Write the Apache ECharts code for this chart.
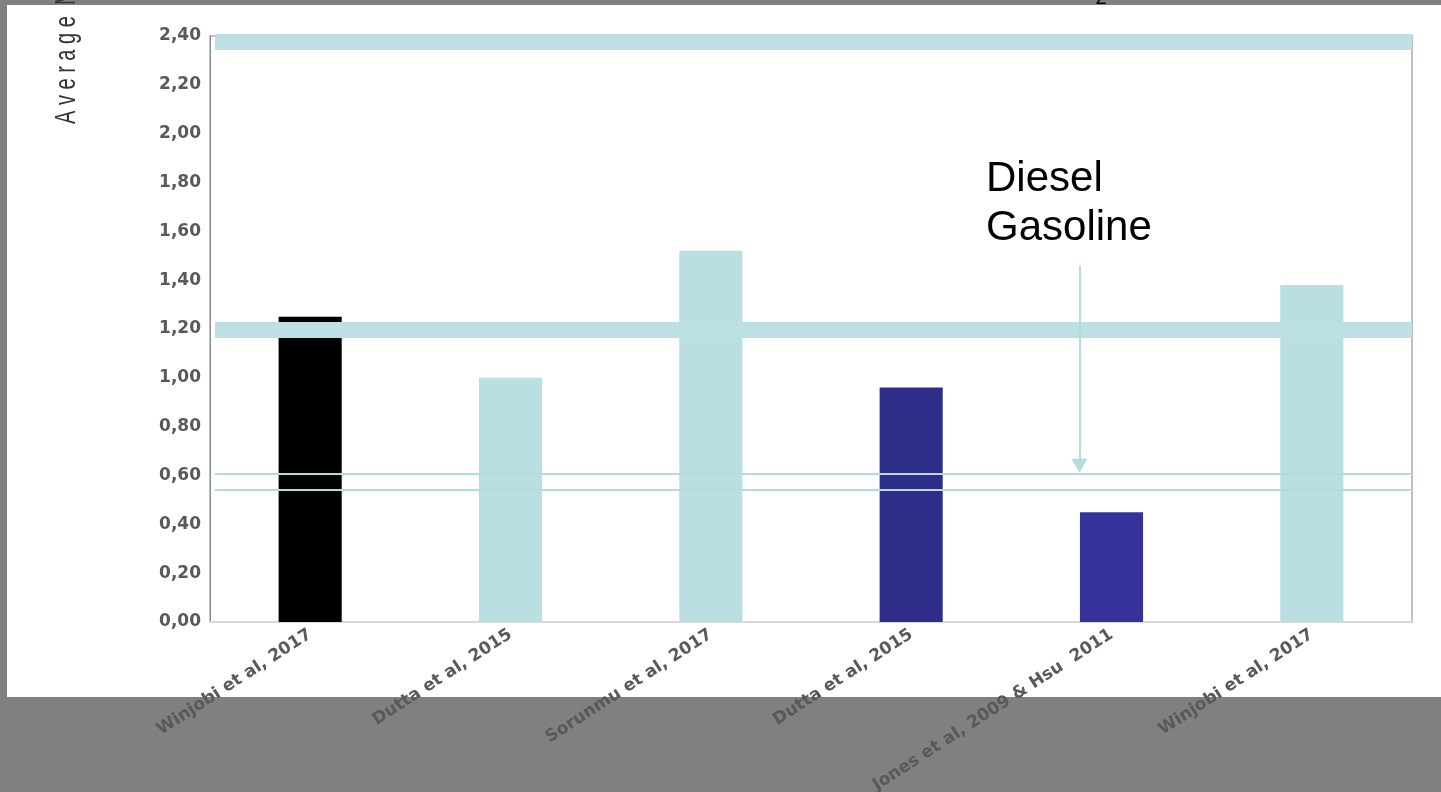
<!DOCTYPE html>
<html>
<head>
<meta charset="utf-8">
<script src="https://cdn.jsdelivr.net/npm/echarts@6/dist/echarts.min.js"></script>
<style>
html, body { margin: 0; padding: 0; background: #808080; }
#panel { position: absolute; left: 7px; top: 5px; width: 1434px; height: 692px; background: #fff; }
#main { position: absolute; left: 0; top: 0; width: 1441px; height: 792px; }
</style>
</head>
<body>
<div id="panel"></div>
<div id="main"></div>
<script>
// data
const categories = ['Winjobi et al, 2017', 'Dutta et al, 2015', 'Sorunmu et al, 2017', 'Dutta et al, 2015', 'Jones et al, 2009 & Hsu  2011', 'Winjobi et al, 2017']
const values = [1.25, 1.00, 1.52, 0.96, 0.45, 1.38]
const barColors = ['#000000', '#b9dfe2', '#b9dfe2', '#2e2d8a', '#35339a', '#b9dfe2']
const yMin = 0
const yMax = 2.4
const yStep = 0.2
// reference lines drawn across the plot
const bandLevels = [2.375, 1.196]
const thinLevels = [0.607, 0.542]
// arrow, in (slot, value) units of the hidden 0..6 axis
const arrowFrom = [4.34, 1.46]
const arrowTo = [4.34, 0.64]
const lineStart = 0.025
const lineEnd = 6

const labelFont = 'DejaVu Sans'
const labelColor = '#595959'

const chart = echarts.init(document.getElementById('main'))

const markData = []
bandLevels.forEach(v => {
  markData.push([
    { coord: [lineStart, v], lineStyle: { width: 16, color: '#bde0e4', type: 'solid', opacity: 1 } },
    { coord: [lineEnd, v] }
  ])
})
thinLevels.forEach(v => {
  markData.push([
    { coord: [lineStart, v], lineStyle: { width: 2, color: '#b4dcdf', type: 'solid', opacity: 1 } },
    { coord: [lineEnd, v] }
  ])
})
markData.push([
  { coord: arrowFrom, symbol: 'none', lineStyle: { width: 2, color: '#b4dcdf', type: 'solid', opacity: 1 } },
  { coord: arrowTo, symbol: 'triangle', symbolSize: [16, 14], itemStyle: { color: '#b4dcdf' } }
])

chart.setOption({
  animation: false,
  grid: {
    left: 210,
    right: 29,
    top: 36,
    bottom: 170,
    outerBoundsMode: 'none',
    containLabel: false,
    show: true,
    borderColor: '#c0c0c0',
    borderWidth: 2
  },
  xAxis: [{
    type: 'category',
    data: categories,
    axisLine: { show: true, lineStyle: { color: '#d9d9d9', width: 2 } },
    axisTick: { show: false },
    splitLine: { show: false },
    axisLabel: {
      interval: 0,
      rotate: 33,
      margin: 11,
      color: labelColor,
      fontFamily: labelFont,
      fontWeight: 'bold',
      fontSize: 17
    }
  }, {
    type: 'value',
    min: 0,
    max: 6,
    show: false
  }],
  yAxis: {
    type: 'value',
    min: yMin,
    max: yMax,
    interval: yStep,
    axisLine: { show: true, lineStyle: { color: '#8c8c8c', width: 1 } },
    axisTick: { show: false },
    splitLine: { show: false },
    axisLabel: {
      margin: 9,
      color: labelColor,
      fontFamily: labelFont,
      fontWeight: 'bold',
      fontSize: 17,
      formatter: v => v.toFixed(2).replace('.', ',')
    }
  },
  series: [{
    type: 'bar',
    barWidth: '31.5%',
    z: 2,
    data: values.map((v, i) => ({ value: v, itemStyle: { color: barColors[i] } }))
  }, {
    type: 'line',
    xAxisIndex: 1,
    data: [],
    z: 5,
    clip: false,
    silent: true,
    markLine: {
      silent: true,
      symbol: ['none', 'none'],
      label: { show: false },
      emphasis: { disabled: true },
      data: markData
    }
  }],
  graphic: [{
    type: 'text',
    x: 67,
    y: 124,
    rotation: Math.PI / 2,
    scaleY: 1.5,
    style: {
      text: 'A v e r a g e  M',
      fontSize: 20,
      fontFamily: 'Liberation Sans',
      fill: '#333',
      textAlign: 'left',
      textVerticalAlign: 'middle'
    }
  }, {
    type: 'text',
    x: 1101,
    y: 8,
    style: {
      text: '2',
      fontSize: 20,
      fontFamily: 'Liberation Sans',
      fill: '#000',
      textAlign: 'center',
      textVerticalAlign: 'bottom'
    }
  }, {
    type: 'text',
    x: 986,
    y: 155,
    style: {
      text: 'Diesel\nGasoline',
      fontSize: 42,
      lineHeight: 49,
      fontFamily: 'Liberation Sans',
      fill: '#000',
      textAlign: 'left',
      textVerticalAlign: 'top'
    }
  }]
})
</script>
</body>
</html>
